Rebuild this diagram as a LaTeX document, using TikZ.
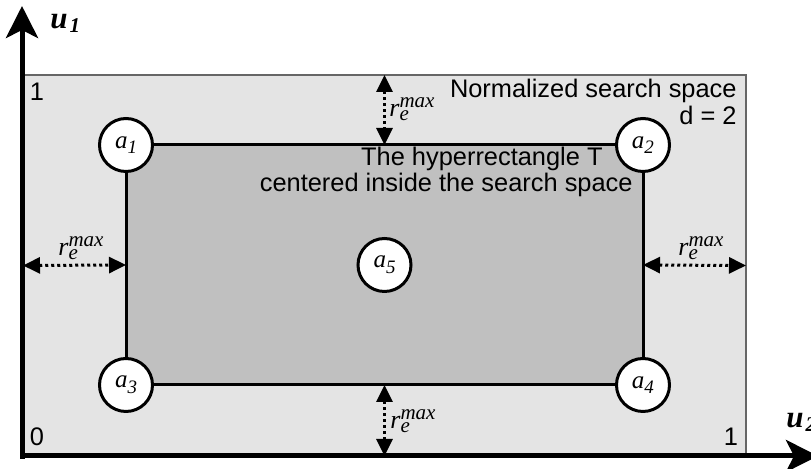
\documentclass[tikz,border=0pt]{standalone}
\usepackage{fontspec}
\setmainfont{Liberation Sans}
\newfontfamily\labelfont{Liberation Serif}
\usetikzlibrary{arrows.meta}

\definecolor{spacegray}{HTML}{E4E4E4}
\definecolor{hypergray}{HTML}{C0C0C0}
\definecolor{framegray}{HTML}{666666}

% labels in serif italic
\newcommand{\agentlab}[2]{{\labelfont\itshape\fontsize{12.5}{13}\selectfont #1\raisebox{-0.5ex}{\fontsize{9.5}{10}\selectfont #2}}}
\newcommand{\rmaxlab}{{\labelfont\itshape\fontsize{13}{13}\selectfont r\makebox[0pt][l]{\raisebox{-2pt}{\fontsize{10.5}{11}\selectfont e}}\raisebox{4.5pt}{\fontsize{10.5}{11}\selectfont max}}}
\newcommand{\axislab}[2]{{\labelfont\bfseries\itshape\fontsize{15.5}{16}\selectfont #1\kern1pt\raisebox{-2pt}{\fontsize{10.5}{11}\selectfont #2}}}

\begin{document}
\begin{tikzpicture}[x=0.5pt,y=-0.5pt,
  agent/.style={circle,draw=black,line width=1.5pt,fill=white,minimum size=26.5pt,inner sep=0pt},
  gap/.style={dash pattern=on 1.5pt off 1.5pt,line width=1.5pt,{Triangle[length=8.5pt,width=8pt]}-{Triangle[length=8.5pt,width=8pt]}},
  axis/.style={line width=2.5pt,-{Stealth[length=16pt,width=16pt,inset=4pt]}},
  txt/.style={font=\fontsize{12.7}{13}\selectfont,inner sep=0pt},
  rlab/.style={inner sep=0pt,anchor=base west}]
\useasboundingbox (0,0) rectangle (811,469);

% search space and hyperrectangle
\node[draw=framegray,line width=1pt,fill=spacegray,minimum width=361.5pt,minimum height=190.5pt,inner sep=0pt,outer sep=0pt] (space) at (384.5,265.5) {};
\node[draw=black,line width=1.5pt,fill=hypergray,minimum width=258.5pt,minimum height=120pt,inner sep=0pt,outer sep=0pt] (hyper) at (384.5,265) {};

% axes
\coordinate (o) at (22,459);
\coordinate (u1tip) at (22,6);
\coordinate (o2) at (20,456);
\coordinate (u2tip) at (818,456);
\draw[axis] (o) -- (u1tip);
\draw[axis] (o2) -- (u2tip);
\node[inner sep=0pt,anchor=base west] (u1) at (50,29) {\axislab{u}{1}};
\node[inner sep=0pt,anchor=base west] (u2) at (786,428) {\axislab{u}{2}};

% distances r_e^max
\draw[gap] (space.north) -- (hyper.north);
\draw[gap] (hyper.south) -- (space.south);
\draw[gap] (space.west) -- (hyper.west);
\draw[gap] (hyper.east) -- (space.east);
\node[rlab] (rtop) at (389,117) {\rmaxlab};
\node[rlab] (rbot) at (390,429) {\rmaxlab};
\node[rlab] (rleft) at (58,256) {\rmaxlab};
\node[rlab] (rright) at (678,256) {\rmaxlab};

% points
\node[agent] (a1) at (hyper.north west) {\agentlab{a}{1}};
\node[agent] (a2) at (hyper.north east) {\agentlab{a}{2}};
\node[agent] (a3) at (hyper.south west) {\agentlab{a}{3}};
\node[agent] (a4) at (hyper.south east) {\agentlab{a}{4}};
\node[agent] (a5) at (hyper.center) {\agentlab{a}{5}};

% texts
\node[txt] (one) at (37,92) {1};
\node[txt] (zero) at (37,437) {0};
\node[txt] (oneb) at (731,437) {1};
\node[txt,anchor=base east] (title) at (737,98) {Normalized search space};
\node[txt,anchor=base east] (dim) at (737,125) {d = 2};
\node[txt,anchor=base east] (hypA) at (603,166) {The hyperrectangle T};
\node[txt,anchor=base east] (hypB) at (633,192) {centered inside the search space};
\end{tikzpicture}
\end{document}
